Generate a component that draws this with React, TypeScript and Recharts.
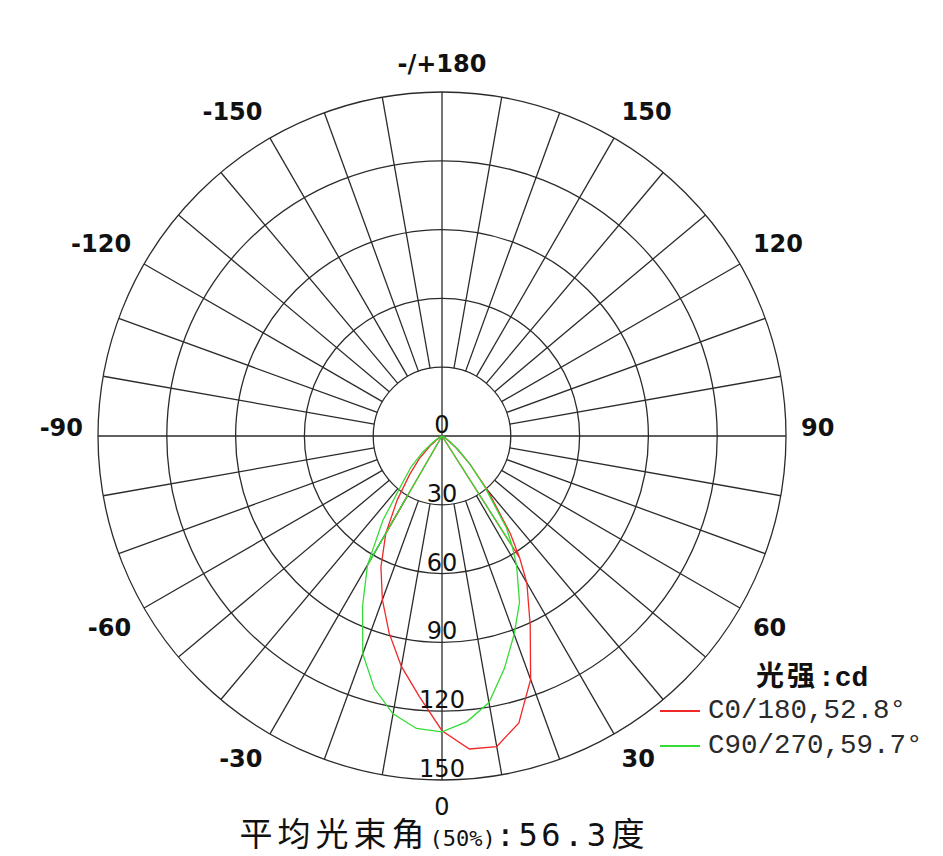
import { RadarChart, Radar, PolarGrid, PolarAngleAxis, PolarRadiusAxis, Legend } from "recharts";

const W = 943;
const H = 856;
const CX = 442;
const CY = 436;
const R = 344;

// gamma angle in degrees: 0 = straight down, positive toward the right.
// The plotted curves run back to the centre once on each side (the straight
// chords seen near the origin), so those angles appear twice with a 0 in between.
const angles = [-180, -90, -60, -55, -50, -45, -40, -35, -30, -30, -30, -25, -20, -15, -10, -5, 0, 5, 10, 15, 20, 25, 30, 32.5, 32.5, 32.5, 35, 40, 45, 50, 55, 60, 90, 180];
// intensity, cd
const c0Values = [0, 0, 1, 3, 7, 14, 22, 34, 49, 0, 49, 63, 76, 89, 102, 114, 128.5, 137, 137.5, 129.5, 113, 91, 74, 63, 0, 63, 52, 31, 17, 8, 3, 1, 0, 0];
const c90Values = [0, 0, 2, 5, 11, 19, 27, 45, 65, 0, 65, 82, 101, 114, 123, 128, 129, 125, 118, 105, 92, 80, 65, 57, 0, 57, 49, 29, 17, 9, 4, 2, 0, 0];

const angleTicks = [-180, -150, -120, -90, -60, -30, 0, 30, 60, 90, 120, 150, 180];
const radiusTicks = [0, 30, 60, 90, 120, 150];

const seriesNames = ["C0/180,52.8°", "C90/270,59.7°"];
const seriesColors = ["#f02828", "#36dc36"];
const legendTitle = "光强";
const legendUnit = ":cd";
const footerLabel = "平均光束角";
const footerPercent = "(50%)";
const footerValue = ":56.3";
const footerUnit = "度";

const data = angles.map((a, i) => ({ angle: a, c0: c0Values[i], c90: c90Values[i] }));

// spokes every 10 degrees; the four main axes are drawn through the centre by the other grid
const minorSpokes = Array.from({ length: 36 }, (_, i) => i * 10).filter((a) => a % 90 !== 0);
const mainSpokes = [0, 90, 180, 270];

const GRID = "#2b2b2b";

const AngleTick = (props: any) => {
  const { x, y, payload, textAnchor } = props;
  const v = payload.value;
  const ny = (y - CY) / Math.hypot(x - CX, y - CY);
  const dy = ny < -0.15 ? -5 : ny > 0.15 ? 20 : 0;
  return (
    <text
      x={x}
      y={y + dy}
      textAnchor={textAnchor}
      fontFamily="DejaVu Sans"
      fontWeight={v === 0 ? "normal" : "bold"}
      fontSize={24}
      fill="#111"
    >
      {Math.abs(v) === 180 ? "-/+180" : v}
    </text>
  );
};

const RadiusTick = (props: any) => {
  const { x, y, payload } = props;
  return (
    <text
      x={x}
      y={y - 11}
      textAnchor="middle"
      dominantBaseline="central"
      fontFamily="DejaVu Sans"
      fontSize={24}
      fill="#111"
    >
      {payload.value}
    </text>
  );
};

const LegendBox = ({ payload }: any) => (
  <div style={{ color: "#2a2a2a" }}>
    <div
      style={{
        paddingLeft: 96,
        height: 38,
        lineHeight: "38px",
        fontWeight: "bold",
        color: "#111",
        whiteSpace: "nowrap",
      }}
    >
      <span style={{ fontFamily: "'Noto Sans CJK SC'", fontSize: 28, letterSpacing: 3 }}>{legendTitle}</span>
      <span style={{ fontFamily: "'Liberation Mono'", fontSize: 28 }}>{legendUnit}</span>
    </div>
    {(payload || []).map((p: any, i: number) => (
      <div key={p.value} style={{ display: "flex", alignItems: "center", height: 35 }}>
        <span style={{ display: "inline-block", width: 40, height: 2, background: seriesColors[i] }} />
        <span style={{ marginLeft: 8, fontFamily: "'Liberation Mono'", fontSize: 27.5 }}>{p.value}</span>
      </div>
    ))}
  </div>
);

export default function App() {
  return (
    <div style={{ position: "absolute", left: 0, top: 0, width: W, height: H, background: "#fff", overflow: "hidden" }}>
      <div style={{ position: "absolute", left: 0, top: 0 }}>
        <RadarChart width={W} height={H} cx={CX} cy={CY} innerRadius={R / 5} outerRadius={R} startAngle={90} endAngle={450} data={data}>
          <PolarGrid gridType="circle" polarAngles={minorSpokes} polarRadius={[]} stroke={GRID} strokeWidth={1.3} strokeOpacity={1} />
        </RadarChart>
      </div>
      <div style={{ position: "absolute", left: 0, top: 0 }}>
        <RadarChart width={W} height={H} cx={CX} cy={CY} innerRadius={0} outerRadius={R} startAngle={90} endAngle={450} data={data}>
          <PolarGrid gridType="circle" polarAngles={mainSpokes} stroke={GRID} strokeWidth={1.3} strokeOpacity={1} />
          <PolarAngleAxis
            dataKey="angle"
            type="number"
            domain={[-180, 180]}
            ticks={angleTicks as any}
            tickCount={13}
            axisLine={false}
            tickLine={false}
            tickSize={15}
            tick={<AngleTick />}
          />
          <PolarRadiusAxis
            angle={-90}
            type="number"
            domain={[0, 150]}
            ticks={radiusTicks as any}
            tickCount={6}
            axisLine={false}
            tickLine={false}
            tick={<RadiusTick />}
          />
          <Radar
            dataKey="c0"
            name={seriesNames[0]}
            stroke={seriesColors[0]}
            strokeWidth={1.3}
            fill="none"
            fillOpacity={0}
            dot={false}
            legendType="line"
            isAnimationActive={false}
          />
          <Radar
            dataKey="c90"
            name={seriesNames[1]}
            stroke={seriesColors[1]}
            strokeWidth={1.3}
            fill="none"
            fillOpacity={0}
            dot={false}
            legendType="line"
            isAnimationActive={false}
          />
          <Legend
            content={<LegendBox />}
            wrapperStyle={{ position: "absolute", left: 660, top: 655, width: 280 }}
          />
        </RadarChart>
      </div>
      <div
        style={{
          position: "absolute",
          left: 0,
          top: 808,
          width: 2 * CX,
          lineHeight: "normal",
          textAlign: "center",
          whiteSpace: "nowrap",
          color: "#111",
        }}
      >
        <span style={{ fontFamily: "'Noto Sans CJK SC'", fontSize: 33, letterSpacing: 5 }}>{footerLabel}</span>
        <span style={{ fontFamily: "'DejaVu Sans Mono'", fontSize: 22 }}>{footerPercent}</span>
        <span style={{ fontFamily: "'DejaVu Sans Mono'", fontSize: 32, letterSpacing: 3.5 }}>{footerValue}</span>
        <span style={{ fontFamily: "'Noto Sans CJK SC'", fontSize: 33, marginLeft: 2 }}>{footerUnit}</span>
      </div>
    </div>
  );
}
